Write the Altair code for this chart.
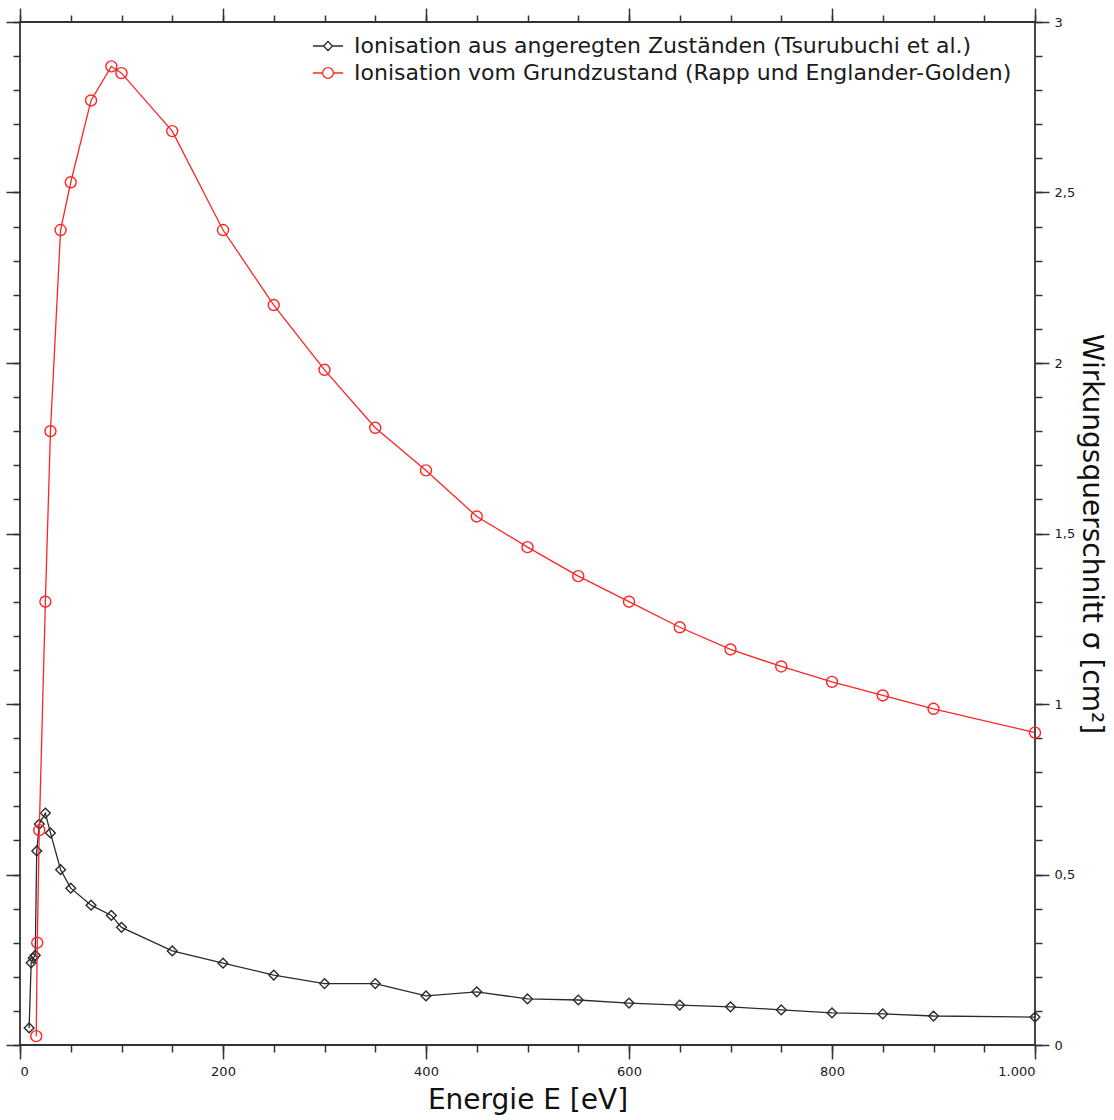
import altair as alt
import pandas as pd

# ---- data ----
S1 = "Ionisation aus angeregten Zuständen (Tsurubuchi et al.)"
S2 = "Ionisation vom Grundzustand (Rapp und Englander-Golden)"

E_black = [9, 11, 13, 15, 16.5, 19, 25, 30, 40, 50, 70, 90, 100,
           150, 200, 250, 300, 350, 400, 450, 500, 550, 600, 650, 700,
           750, 800, 850, 900, 1000]
sig_black = [0.05, 0.241, 0.255, 0.263, 0.569, 0.648, 0.680, 0.622, 0.514, 0.46,
             0.41, 0.38, 0.345, 0.276, 0.24, 0.205, 0.18, 0.18, 0.144, 0.156,
             0.135, 0.132, 0.123, 0.117, 0.112, 0.103, 0.094, 0.091, 0.085, 0.082]

E_red = [16, 17, 19, 25, 30, 40, 50, 70, 90, 100,
         150, 200, 250, 300, 350, 400, 450, 500, 550, 600, 650, 700,
         750, 800, 850, 900, 1000]
sig_red = [0.026, 0.30, 0.63, 1.30, 1.80, 2.39, 2.53, 2.77, 2.87, 2.85,
           2.68, 2.39, 2.17, 1.98, 1.81, 1.685, 1.55, 1.46, 1.375, 1.30,
           1.225, 1.16, 1.11, 1.065, 1.025, 0.986, 0.916]

x_major = [0, 200, 400, 600, 800, 1000]
x_minor = list(range(0, 1001, 50))
y_major = [0, 0.5, 1, 1.5, 2, 2.5, 3]
y_minor = [round(i * 0.1, 1) for i in range(31)]

COL_BLACK = "#2b2b2b"
COL_RED = "#ff2424"
FONT = "DejaVu Sans"

df_black = pd.DataFrame({"E": E_black, "sigma": sig_black, "series": S1})
df_red = pd.DataFrame({"E": E_red, "sigma": sig_red, "series": S2})
df_all = pd.concat([df_black, df_red], ignore_index=True)

xscale = alt.Scale(domain=[0, 1000], nice=False, zero=False)
yscale = alt.Scale(domain=[0, 3], nice=False, zero=False)
cscale = alt.Scale(domain=[S1, S2], range=[COL_BLACK, COL_RED])

x_label_expr = "replace(format(datum.value, ','), ',', '.')"
y_label_expr = "replace(format(datum.value, '~g'), '.', ',')"

# legend symbols: short line with the marker in the middle
path_diamond = "M-1,0L-0.3,0M0.3,0L1,0M0,-0.3L0.3,0L0,0.3L-0.3,0Z"
path_circle = ("M-1,0L-0.36,0M0.36,0L1,0M0.36,0A0.36,0.36,0,1,1,-0.36,0"
               "A0.36,0.36,0,1,1,0.36,0Z")
sscale = alt.Scale(domain=[S1, S2], range=[path_diamond, path_circle])

legend = alt.Legend(
    title=None,
    orient="none",
    legendX=292,
    legendY=8,
    padding=0,
    rowPadding=0,
    labelFont=FONT,
    labelFontSize=22,
    labelColor="#1a1a1a",
    labelOffset=10,
    labelLimit=900,
    symbolSize=900,
    symbolStrokeWidth=1.3,
    symbolOpacity=1,
    symbolFillColor="transparent",
)

# axis sets
ax_x_bottom_major = alt.Axis(orient="bottom", values=x_major, tickSize=14, labelExpr=x_label_expr,
                             title="Energie E [eV]", titleFontSize=28, titlePadding=8,
                             labelFontSize=13, labelPadding=6, domain=False, grid=False)
ax_x_bottom_minor = alt.Axis(orient="bottom", values=x_minor, tickSize=7, labels=False,
                             title=None, domain=False, grid=False)
ax_x_top_major = alt.Axis(orient="top", values=x_major, tickSize=14, labels=False,
                          title=None, domain=False, grid=False)
ax_x_top_minor = alt.Axis(orient="top", values=x_minor, tickSize=7, labels=False,
                          title=None, domain=False, grid=False)

ax_y_right_major = alt.Axis(orient="right", values=y_major, tickSize=14, labelExpr=y_label_expr,
                            title="Wirkungsquerschnitt σ [cm²]", titleFontSize=28, titlePadding=2,
                            labelFontSize=13, labelPadding=5, domain=False, grid=False)
ax_y_right_minor = alt.Axis(orient="right", values=y_minor, tickSize=7, labels=False,
                            title=None, domain=False, grid=False)
ax_y_left_major = alt.Axis(orient="left", values=y_major, tickSize=14, labels=False,
                           title=None, domain=False, grid=False)
ax_y_left_minor = alt.Axis(orient="left", values=y_minor, tickSize=7, labels=False,
                           title=None, domain=False, grid=False)

# invisible layer that carries the legend (line + marker symbols); listed first
legend_layer = alt.Chart(df_all).mark_point(filled=False, opacity=0).encode(
    x=alt.X("E:Q", scale=xscale, axis=None),
    y=alt.Y("sigma:Q", scale=yscale, axis=None),
    color=alt.Color("series:N", scale=cscale, legend=legend),
    shape=alt.Shape("series:N", scale=sscale, legend=legend),
)
black_line = alt.Chart(df_black).mark_line(strokeWidth=1.3).encode(
    x=alt.X("E:Q", scale=xscale, axis=ax_x_bottom_major),
    y=alt.Y("sigma:Q", scale=yscale, axis=ax_y_right_major),
    color=alt.Color("series:N", scale=cscale, legend=legend),
)
black_pts = alt.Chart(df_black).mark_point(shape="diamond", size=95, filled=False, strokeWidth=1.4,
                                           opacity=1).encode(
    x=alt.X("E:Q", scale=xscale, axis=ax_x_bottom_minor),
    y=alt.Y("sigma:Q", scale=yscale, axis=ax_y_right_minor),
    color=alt.Color("series:N", scale=cscale, legend=legend),
)
red_line = alt.Chart(df_red).mark_line(strokeWidth=1.3).encode(
    x=alt.X("E:Q", scale=xscale, axis=ax_x_top_major),
    y=alt.Y("sigma:Q", scale=yscale, axis=ax_y_left_major),
    color=alt.Color("series:N", scale=cscale, legend=legend),
)
red_pts = alt.Chart(df_red).mark_point(shape="circle", size=121, filled=False, strokeWidth=1.4,
                                       opacity=1).encode(
    x=alt.X("E:Q", scale=xscale, axis=ax_x_top_minor),
    y=alt.Y("sigma:Q", scale=yscale, axis=ax_y_left_minor),
    color=alt.Color("series:N", scale=cscale, legend=legend),
)

chart = (
    alt.layer(legend_layer, black_line, black_pts, red_line, red_pts)
    .resolve_axis(x="independent", y="independent")
    .properties(
        width=1015,
        height=1023,
        padding={"left": 20, "top": 22, "right": 79, "bottom": 75},
        autosize=alt.AutoSizeParams(type="none"),
        background="white",
    )
    .configure_view(stroke="#333333", strokeWidth=1.8)
    .configure_axis(
        labelFont=FONT,
        titleFont=FONT,
        titleFontWeight="normal",
        labelColor="#1a1a1a",
        titleColor="#111111",
        tickColor="#333333",
        tickWidth=1.5,
    )
)

chart.save("out.html", embed_options={"renderer": "svg", "actions": False})
